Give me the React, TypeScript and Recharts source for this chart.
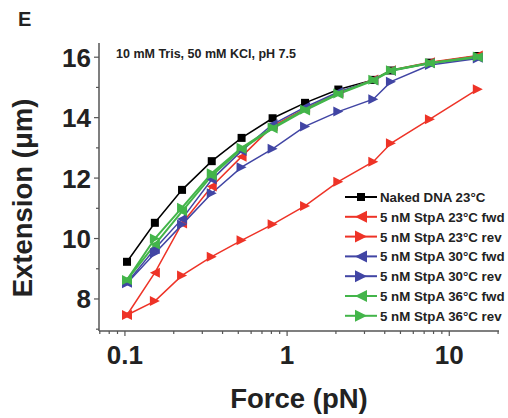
import { LineChart, Line, XAxis, YAxis, Legend } from 'recharts';

// force values (pN) shared by every series
const FORCE = [0.103, 0.153, 0.225, 0.343, 0.524, 0.814, 1.29, 2.07, 3.4, 4.37, 7.6, 15];

const NAKED_23 = [9.23, 10.52, 11.61, 12.56, 13.33, 13.98, 14.49, 14.93, 15.25, 15.56, 15.82, 16.04];
const STPA_23_FWD = [7.47, 8.87, 10.5, 11.72, 12.71, 13.72, 14.3, 14.82, 15.26, 15.57, 15.83, 16.06];
const STPA_23_REV = [7.47, 7.93, 8.78, 9.4, 9.94, 10.47, 11.08, 11.88, 12.54, 13.15, 13.95, 14.94];
const STPA_30_FWD = [8.54, 9.66, 10.65, 11.95, 12.9, 13.78, 14.35, 14.85, 15.24, 15.55, 15.8, 15.98];
const STPA_30_REV = [8.52, 9.51, 10.46, 11.5, 12.36, 12.97, 13.71, 14.2, 14.61, 15.19, 15.74, 15.96];
const STPA_36_FWD = [8.63, 9.8, 10.9, 12.08, 12.96, 13.64, 14.24, 14.78, 15.23, 15.55, 15.8, 16.0];
const STPA_36_REV = [8.63, 10.0, 11.02, 12.16, 13.0, 13.67, 14.27, 14.8, 15.25, 15.57, 15.81, 16.02];

const X_TICKS = [0.07, 0.08, 0.09, 0.1, 0.2, 0.3, 0.4, 0.5, 0.6, 0.7, 0.8, 0.9, 1, 2, 3, 4, 5, 6, 7, 8, 9, 10, 20];
const X_LABELS = [0.1, 1, 10];
const Y_TICKS = [7, 8, 9, 10, 11, 12, 13, 14, 15, 16];

const RED = '#ee3327';
const BLUE = '#4145a4';
const GREEN = '#43b54a';
const FONT = '"Liberation Sans", Arial, sans-serif';

type Shape = 'square' | 'left' | 'right';

const SERIES: { name: string; values: number[]; color: string; shape: Shape; width: number }[] = [
  { name: 'Naked DNA 23°C', values: NAKED_23, color: '#000000', shape: 'square', width: 1.5 },
  { name: '5 nM StpA 23°C fwd', values: STPA_23_FWD, color: RED, shape: 'left', width: 1.5 },
  { name: '5 nM StpA 23°C rev', values: STPA_23_REV, color: RED, shape: 'right', width: 1.5 },
  { name: '5 nM StpA 30°C fwd', values: STPA_30_FWD, color: BLUE, shape: 'left', width: 1.5 },
  { name: '5 nM StpA 30°C rev', values: STPA_30_REV, color: BLUE, shape: 'right', width: 1.5 },
  { name: '5 nM StpA 36°C fwd', values: STPA_36_FWD, color: GREEN, shape: 'left', width: 2 },
  { name: '5 nM StpA 36°C rev', values: STPA_36_REV, color: GREEN, shape: 'right', width: 2 },
];

const Marker = ({ cx, cy, color, shape, s = 5 }: { cx: number; cy: number; color: string; shape: Shape; s?: number }) => {
  if (shape === 'square') {
    return <rect x={cx - s + 1} y={cy - s + 1} width={2 * s - 2} height={2 * s - 2} fill={color} />;
  }
  const pts =
    shape === 'left'
      ? `${cx - s},${cy} ${cx + s},${cy - s} ${cx + s},${cy + s}`
      : `${cx + s},${cy} ${cx - s},${cy - s} ${cx - s},${cy + s}`;
  return <polygon points={pts} fill={color} />;
};

const XTick = ({ x, y, payload }: any) => {
  const major = X_LABELS.includes(payload.value);
  return (
    <g>
      <line x1={x} x2={x} y1={y} y2={y + (major ? 5 : 3)} stroke="#555" strokeWidth={1.2} />
      {major && (
        <text x={x} y={y + 33} textAnchor="middle" fontFamily={FONT} fontWeight="bold" fontSize={26} fill="#222">
          {payload.value}
        </text>
      )}
    </g>
  );
};

const YTick = ({ x, y, payload }: any) => {
  const major = payload.value % 2 === 0;
  return (
    <g>
      <line x1={x - (major ? 5 : 3)} x2={x} y1={y} y2={y} stroke="#555" strokeWidth={1.2} />
      {major && (
        <text x={x - 8} y={y + 9.5} textAnchor="end" fontFamily={FONT} fontWeight="bold" fontSize={26} fill="#222">
          {payload.value}
        </text>
      )}
    </g>
  );
};

const LegendBox = () => (
  <svg width={168} height={140}>
    {SERIES.map((s, i) => {
      const cy = 11 + i * 19.8;
      return (
        <g key={s.name}>
          <line x1={5} x2={37} y1={cy} y2={cy} stroke={s.color} strokeWidth={2} />
          <Marker cx={21} cy={cy} color={s.color} shape={s.shape} s={s.shape === 'square' ? 5 : 6} />
          <text x={40} y={cy + 5} fontFamily={FONT} fontWeight="bold" fontSize={13.3} fill="#222">
            {s.name}
          </text>
        </g>
      );
    })}
  </svg>
);

export default function App() {
  return (
    <div style={{ position: 'absolute', left: 0, top: 0, width: 508, height: 418, background: '#fff' }}>
      <div style={{ position: 'absolute', left: 18, top: 8, fontFamily: FONT, fontWeight: 'bold', fontSize: 20, color: '#222' }}>E</div>
      <div style={{ position: 'absolute', left: 116, top: 47, fontFamily: FONT, fontWeight: 'bold', fontSize: 12.5, color: '#222', whiteSpace: 'nowrap' }}>
        10 mM Tris, 50 mM KCl, pH 7.5
      </div>
      <LineChart width={508} height={418} margin={{ top: 43, right: 9, bottom: 27, left: 39 }}>
        <XAxis
          dataKey="x"
          type="number"
          scale="log"
          domain={[0.0692, 20.26]}
          allowDataOverflow
          ticks={X_TICKS}
          interval={0}
          height={60}
          tickSize={0}
          tickMargin={0}
          tickLine={false}
          tick={<XTick />}
          axisLine={{ stroke: '#555', strokeWidth: 1.5 }}
          label={() => (
            <text x={299} y={408} textAnchor="middle" fontFamily={FONT} fontWeight="bold" fontSize={27.5} fill="#222">
              Force (pN)
            </text>
          )}
        />
        <YAxis
          type="number"
          domain={[6.94, 16.47]}
          allowDataOverflow
          ticks={Y_TICKS}
          interval={0}
          width={60}
          tickSize={0}
          tickMargin={0}
          tickLine={false}
          tick={<YTick />}
          axisLine={{ stroke: '#555', strokeWidth: 1.5 }}
          label={() => (
            <text
              x={32}
              y={198}
              transform="rotate(-90 32 198)"
              textAnchor="middle"
              fontFamily={FONT}
              fontWeight="bold"
              fontSize={27.5}
              fill="#222"
            >
              Extension (μm)
            </text>
          )}
        />
        <Legend
          layout="vertical"
          align="center"
          verticalAlign="middle"
          content={<LegendBox />}
          wrapperStyle={{ left: 340, top: 186, width: 168, height: 140 }}
        />
        {SERIES.map((s) => (
          <Line
            key={s.name}
            name={s.name}
            data={FORCE.map((f, i) => ({ x: f, y: s.values[i] }))}
            dataKey="y"
            stroke={s.color}
            strokeWidth={s.width}
            isAnimationActive={false}
            dot={(p: any) => <Marker key={`${s.name}-${p.index}`} cx={p.cx} cy={p.cy} color={s.color} shape={s.shape} />}
            activeDot={false}
          />
        ))}
      </LineChart>
    </div>
  );
}
